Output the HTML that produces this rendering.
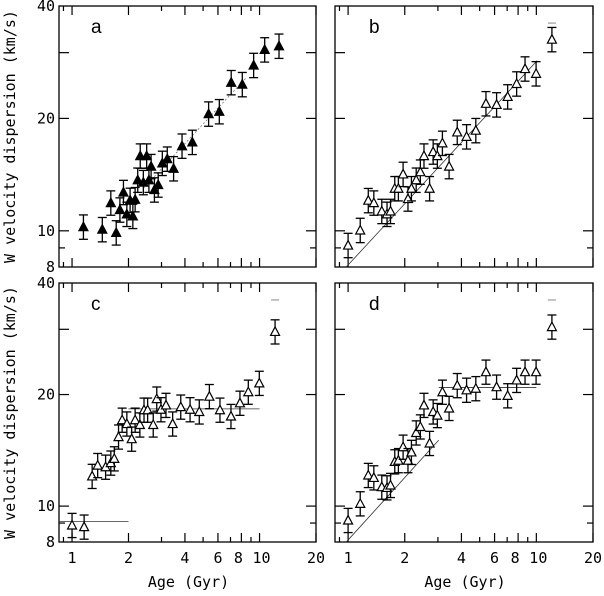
<!DOCTYPE html>
<html><head><meta charset="utf-8"><style>
html,body{margin:0;padding:0;background:#fff}
svg text{font-family:"DejaVu Sans Mono","Liberation Mono",monospace;font-size:15px;fill:#000}
</style></head><body>
<svg id="chart" width="604" height="591" viewBox="0 0 604 591" xmlns="http://www.w3.org/2000/svg"></svg>
<script>
const agesA=[1.15,1.45,1.72,1.61,1.80,1.88,1.96,2.04,2.11,2.17,2.24,2.31,2.40,2.50,2.57,2.64,2.75,2.88,3.03,3.22,3.48,3.86,4.38,5.35,6.10,7.06,8.09,9.30,10.65,12.7];
const valuesA=[10.26,10.1,9.9,11.9,11.4,12.7,11.1,12.1,10.96,12.15,13.7,15.9,13.5,15.9,13.7,14.9,12.9,13.3,15.2,15.6,14.7,16.9,17.3,20.6,20.9,25.0,24.7,27.8,30.6,31.3];
const ages=[1.00,1.16,1.28,1.37,1.51,1.61,1.68,1.77,1.85,1.96,2.08,2.17,2.30,2.42,2.53,2.71,2.83,2.98,3.17,3.44,3.80,4.26,4.77,5.40,6.15,7.04,7.86,8.71,9.97,12.1];
const valuesB=[9.16,10.05,12.08,11.9,11.3,11.1,11.3,13.0,13.0,14.2,12.2,13.0,13.7,14.4,15.9,13.0,16.3,15.9,17.2,14.9,18.4,17.9,18.6,21.95,21.8,22.9,24.8,27.2,26.4,32.6];
const valuesC=[8.89,8.8,12.06,12.9,12.77,13.1,13.45,15.4,17.1,16.7,15.2,17.1,16.6,18.2,18.2,16.6,19.5,18.25,18.75,16.7,18.55,18.25,18.0,19.8,18.2,17.5,19.0,20.35,21.5,29.6];
const valuesD=[9.17,10.17,12.13,11.95,11.28,11.23,11.4,13.2,13.3,14.46,13.3,14.0,15.8,16.4,18.75,14.8,18.0,17.6,20.35,18.4,21.2,20.6,20.8,23.05,21.0,19.9,21.9,23.05,23.05,30.5];
const relErr=0.075;
const xTicks=[0.9,1,2,3,4,5,6,7,8,9,10,20];
const xMajor=[1,2,4,6,8,10,20];
const xTickLabels=["1","2","4","6","8","10","20"];
const yTicks=[9,10,20,30];
const yTickLabels=["8","10","20","40"];
const yTickLabelVals=[8,10,20,40];
const NS="http://www.w3.org/2000/svg";
const svg=document.getElementById('chart');
function el(tag,attrs,parent){const e=document.createElementNS(NS,tag);for(const k in attrs)e.setAttribute(k,attrs[k]);(parent||svg).appendChild(e);return e;}
const X0=0.852,X1=20,Y0=8,Y1=40;
const panels=[
 {id:'a',left:59,top:6,w:257,h:261,ages:agesA,vals:valuesA,filled:true,letter:'a',ylab:true,xlab:false},
 {id:'b',left:335,top:6,w:258,h:261,ages:ages,vals:valuesB,filled:false,letter:'b',ylab:false,xlab:false},
 {id:'c',left:59,top:283,w:257,h:259,ages:ages,vals:valuesC,filled:false,letter:'c',ylab:true,xlab:true},
 {id:'d',left:335,top:283,w:258,h:259,ages:ages,vals:valuesD,filled:false,letter:'d',ylab:false,xlab:true}
];
// fit lines: [x1,x2, v at x1, slope] power-law segments
const fitB=[{x1:0.98,x2:10.1,a:8.1,k:0.545,dash:false}];
const fitA=[{x1:2.4,x2:8.5,a:8.1,k:0.54,dash:true}];
const fitC=[{x1:0.852,x2:2.0,a:9.08,k:0,dash:false},{x1:2.0,x2:10,a:18.3,k:0,dash:false}];
const fitD=[{x1:0.98,x2:3.03,a:8.1,k:0.56,dash:false},{x1:3.03,x2:10,a:20.9,k:0,dash:false}];
const fits={a:fitA,b:fitB,c:fitC,d:fitD};
panels.forEach(p=>{
 const g=el('g',{});
 
 
 const sx=v=>p.left+(Math.log10(v)-Math.log10(X0))/(Math.log10(X1)-Math.log10(X0))*p.w;
 const sy=v=>p.top+(Math.log10(Y1)-Math.log10(v))/(Math.log10(Y1)-Math.log10(Y0))*p.h;
 const fr=el('rect',{x:p.left,y:p.top,width:p.w,height:p.h,fill:'none',stroke:'#000','stroke-width':1.3},g);
 
 
 xTicks.forEach(t=>{const L=xMajor.includes(t)?9:5;const x=sx(t);
  el('line',{x1:x,y1:p.top+p.h,x2:x,y2:p.top+p.h-L,stroke:'#000','stroke-width':1.2},g);
  el('line',{x1:x,y1:p.top,x2:x,y2:p.top+L,stroke:'#000','stroke-width':1.2},g);});
 yTicks.forEach(t=>{const L=(t==9)?6:10;const y=sy(t);
  el('line',{x1:p.left,y1:y,x2:p.left+L,y2:y,stroke:'#000','stroke-width':1.2},g);
  el('line',{x1:p.left+p.w,y1:y,x2:p.left+p.w-L,y2:y,stroke:'#000','stroke-width':1.2},g);});
 if(p.ylab){
  yTickLabels.forEach((s,i)=>{const t=el('text',{x:p.left-4,y:sy(yTickLabelVals[i])+5,'text-anchor':'end'},g);t.textContent=s;
   
   });
  const cy=p.top+p.h/2;
  const yt=el('text',{x:0,y:0,'text-anchor':'middle',transform:`translate(15,${cy}) rotate(-90)`},g);
  yt.textContent='W velocity dispersion (km/s)';
  
  
 }
 if(p.xlab){
  xMajor.forEach((v,i)=>{let x=sx(v);if(v==8)x-=3;if(v==10)x+=2;const t=el('text',{x:x,y:p.top+p.h+21,'text-anchor':'middle'},g);t.textContent=xTickLabels[i];
   
   });
  const xt=el('text',{x:p.left+p.w/2+1,y:p.top+p.h+45,'text-anchor':'middle'},g);
  xt.textContent='Age (Gyr)';
  
  
 }
 const lt=el('text',{x:p.left+(p.id=='a'?32:p.id=='c'?32:34),y:p.top+27,style:'font-family:"Liberation Sans",sans-serif;font-size:19px'},g);
 lt.textContent=p.letter;
 
 
 fits[p.id].forEach(f=>{
  const v1=f.a*Math.pow(f.x1,f.k),v2=f.a*Math.pow(f.x2,f.k);
  const l=el('line',{x1:sx(f.x1),y1:sy(Math.max(v1,Y0)),x2:sx(f.x2),y2:sy(v2),stroke:f.dash?'#777':'#333','stroke-width':0.8,'stroke-dasharray':f.dash?'2,2':'none'},g);
  
  
 });
 if(p.id!='a'){const x=sx(ages[ages.length-1]);const y=sy(36);
  const d=el('line',{x1:x-4,y1:y,x2:x+4,y2:y,stroke:'#888','stroke-width':1},g);
  
  }
 p.ages.forEach((a,i)=>{
  const v=p.vals[i];const x=sx(a),y=sy(v);const yt=sy(v*(1+relErr)),yb=sy(v*(1-relErr));
  const pg=el('g',{},g);
  
  
  el('line',{x1:x,y1:yt,x2:x,y2:yb,stroke:'#000','stroke-width':1.3},pg);
  el('line',{x1:x-4.5,y1:yt,x2:x+4.5,y2:yt,stroke:'#000','stroke-width':1.3},pg);
  el('line',{x1:x-4.5,y1:yb,x2:x+4.5,y2:yb,stroke:'#000','stroke-width':1.3},pg);
  el('polygon',{points:`${x-4.5},${y+4} ${x+4.5},${y+4} ${x},${y-4.5}`,fill:p.filled?'#000':'#fff',stroke:'#000','stroke-width':1.2},pg);
 });
});
</script>
</body></html>
